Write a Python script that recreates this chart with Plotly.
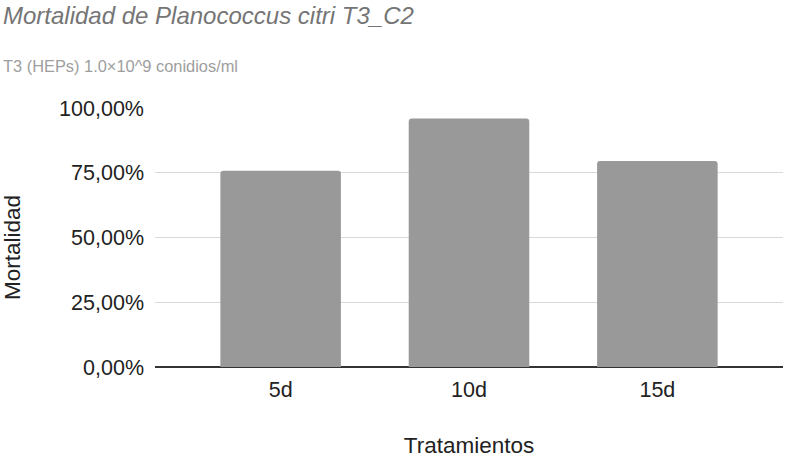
import plotly.graph_objects as go

# Data
tratamientos = ['5d', '10d', '15d']
mortalidad = [0.758, 0.959, 0.795]
y_ticks = [0, 0.25, 0.5, 0.75, 1.0]

bars = go.Bar(x=tratamientos,
              y=mortalidad,
              width=0.64,
              marker=dict(color='#999999', cornerradius=3, line=dict(width=0)),
              name='Mortalidad')

fig = go.Figure(data=[bars])

fig.update_layout(
    width=789, height=458,
    margin=dict(l=155, r=6, t=108, b=91),
    paper_bgcolor='white',
    plot_bgcolor='white',
    separators=',.',
    font=dict(family='Liberation Sans, Arial, sans-serif', color='#222222'),
    showlegend=False,
    xaxis=dict(
        range=[-0.667, 2.667],
        automargin=False,
        tickfont=dict(size=21.5, color='#222222'),
        title=dict(text='Tratamientos', font=dict(size=22.5, color='#222222'), standoff=39),
        showgrid=False,
        ticks='',
        ticklabelstandoff=7,
    ),
    yaxis=dict(
        range=[0, 1.0],
        automargin=False,
        tickvals=y_ticks,
        tickformat='.2%',
        tickfont=dict(size=21.5, color='#222222'),
        showgrid=True,
        gridcolor='#d9d9d9',
        gridwidth=1,
        zeroline=True,
        zerolinecolor='#333333',
        zerolinewidth=1.5,
        ticks='',
        ticklabelstandoff=10,
    ),
    annotations=[
        dict(text='<i>Mortalidad de Planococcus citri T3_C2</i>',
             xref='paper', yref='paper', x=-155/628, y=1 + 108/259,
             xanchor='left', yanchor='top', yshift=0, xshift=1, showarrow=False,
             font=dict(size=24, color='#757575')),
        dict(text='T3 (HEPs) 1.0×10^9 conidios/ml',
             xref='paper', yref='paper', x=-155/628, y=1 + 108/259,
             xanchor='left', yanchor='top', yshift=-55, xshift=1, showarrow=False,
             font=dict(size=16.4, color='#9e9e9e')),
        # y axis title, placed by hand (sits a bit below the plot centre)
        dict(text='Mortalidad', textangle=-90,
             xref='paper', yref='paper', x=-143/628, y=(367 - 248) / 259,
             xanchor='center', yanchor='middle', showarrow=False,
             font=dict(size=22.5, color='#222222')),
    ],
)

# page body has a default 8px margin; drop it so the chart sits at the corner
fig.write_html("out.html", config={'displayModeBar': False},
               post_script="document.body.style.margin='0';")
